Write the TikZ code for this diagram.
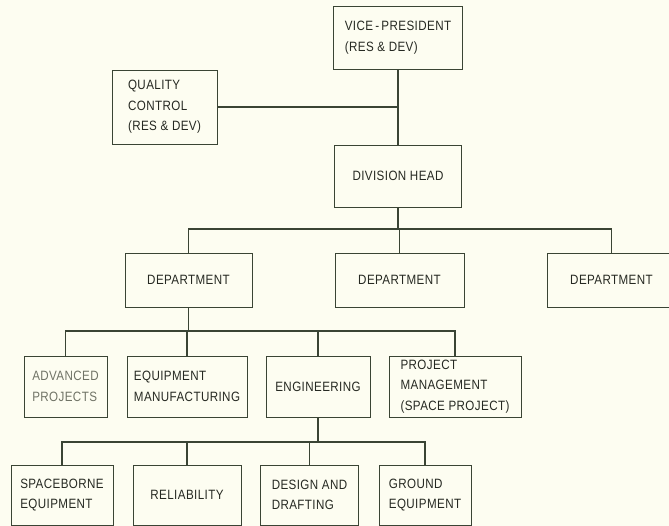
\documentclass[tikz,border=0pt]{standalone}
\usepackage{fontspec}
\setmainfont{Liberation Sans}[FakeStretch=0.86,LetterSpace=3]
\usepackage{tikz}

\definecolor{paper}{HTML}{FDFDF1}
\definecolor{ink}{HTML}{3A4434}
\definecolor{lettering}{HTML}{262922}
\definecolor{faded}{HTML}{707366}

\begin{document}
\begin{tikzpicture}[x=1pt,y=-1pt,
	box/.style={draw=ink,line width=0.9pt,fill=paper,text=lettering,align=left,inner sep=0pt,font=\fontsize{13.5}{20.5}\selectfont},
	wire/.style={draw=ink,line width=1.8pt}]
	
	\fill[paper] (0,0) rectangle (669,526);
	\useasboundingbox (0,0) rectangle (669,526);
	
	% top of the chart
	\node[box,minimum width=129pt,minimum height=63pt] (vp) at (398,37.5) {VICE\,-\,PRESIDENT\\(RES \& DEV)};
	\node[box,minimum width=105pt,minimum height=74pt] (qc) at (164.5,107) {QUALITY\\CONTROL\\(RES \& DEV)};
	\node[box,minimum width=127pt,minimum height=62pt] (dh) at (398,176) {DIVISION HEAD};
	
	\node[box,minimum width=127pt,minimum height=54pt] (dpa) at (188.5,280) {DEPARTMENT};
	\node[box,minimum width=129pt,minimum height=54pt] (dpb) at (399.5,280) {DEPARTMENT};
	\node[box,minimum width=129pt,minimum height=54pt] (dpc) at (611.5,280) {DEPARTMENT};
	
	% under the first department
	\node[box,text=faded,minimum width=83pt,minimum height=61pt] (adv) at (65.5,386.5) {ADVANCED\\PROJECTS};
	\node[box,minimum width=120pt,minimum height=61pt] (eq) at (187,386.5) {EQUIPMENT\\MANUFACTURING};
	\node[box,minimum width=104pt,minimum height=61pt] (eng) at (318,386.5) {ENGINEERING};
	\node[box,minimum width=132pt,minimum height=61pt] (pm) at (455,386.5) {PROJECT\\MANAGEMENT\\(SPACE PROJECT)};
	
	% under engineering
	\node[box,minimum width=102pt,minimum height=60pt] (sb) at (62,495) {SPACEBORNE\\EQUIPMENT};
	\node[box,minimum width=108pt,minimum height=60pt] (rel) at (187,495) {RELIABILITY};
	\node[box,minimum width=98pt,minimum height=60pt] (des) at (309.5,495) {DESIGN AND\\DRAFTING};
	\node[box,minimum width=92pt,minimum height=60pt] (gr) at (425,495) {GROUND\\EQUIPMENT};
	
	\coordinate (busA) at (398,229);
	\coordinate (busB) at (188,331);
	\coordinate (busC) at (318,442);
	
	\draw[wire] (vp.south) -- (dh.north);
	\draw[wire] (qc.east) -- (qc.east -| vp.south);
	
	\draw[wire] (dh.south) -- (busA);
	\draw[wire] (dpa.north) |- (busA) -| (dpc.north);
	\draw[wire] (dpb.north) |- (busA);
	
	\draw[wire] (dpa.south) -- (dpa.south |- busB);
	\draw[wire] (adv.north) |- (pm.north |- busB) -- (pm.north);
	\foreach \n in {eq,eng}
		\draw[wire] (\n.north) -- (\n.north |- busB);
	
	\draw[wire] (eng.south) -- (busC);
	\draw[wire] (sb.north) |- (gr.north |- busC) -- (gr.north);
	\foreach \n in {rel,des}
		\draw[wire] (\n.north) -- (\n.north |- busC);
	
\end{tikzpicture}
\end{document}
